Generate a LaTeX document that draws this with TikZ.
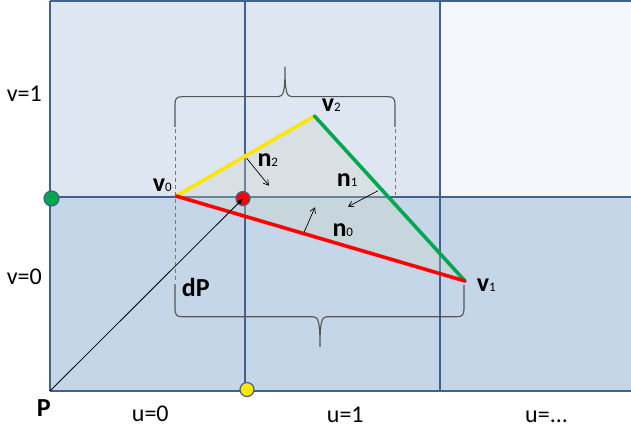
\documentclass[tikz,border=0pt]{standalone}
\usepackage{fontspec}
\setmainfont{Carlito}
\usetikzlibrary{arrows.meta}
\definecolor{cellA}{RGB}{222,230,241}
\definecolor{cellB}{RGB}{243,247,251}
\definecolor{cellC}{RGB}{197,214,233}
\definecolor{gridc}{RGB}{66,98,142}
\definecolor{trif}{RGB}{205,212,196}
\definecolor{edgeG}{RGB}{0,166,80}
\definecolor{edgeR}{RGB}{255,0,0}
\definecolor{edgeY}{RGB}{255,230,0}
\definecolor{bracec}{RGB}{85,85,85}
\definecolor{dashc}{RGB}{120,120,120}
\tikzset{
  gridline/.style={draw=gridc,line width=1.6pt},
  edgeline/.style={line width=3.6pt,line cap=round},
  bracepath/.style={draw=bracec,line width=1.1pt},
  dashpath/.style={draw=dashc,line width=0.9pt,dash pattern=on 4pt off 3pt},
  normarrow/.style={draw=black,line width=0.7pt,-{Straight Barb[length=5pt,width=6pt]}},
  dotmark/.style={circle,draw=gridc,line width=1.2pt,minimum size=15pt,inner sep=0pt},
  lab/.style={anchor=base west,inner sep=0pt,font=\fontsize{24}{24}\selectfont},
  blab/.style={anchor=base west,inner sep=0pt,font=\fontsize{26}{26}\selectfont\bfseries},
}
\newcommand{\subsc}[1]{{\fontsize{13}{13}\selectfont\mdseries #1}}
\begin{document}
\begin{tikzpicture}[x=1pt,y=-1pt]
\useasboundingbox (0,0) rectangle (631,430);
\fill[white] (0,0) rectangle (631,430);
% cells
\fill[cellA] (50,1) rectangle (440,197);
\fill[cellB] (440,1) rectangle (631,197);
\fill[cellC] (50,197) rectangle (631,391);
% grid
\draw[gridline] (50,1) -- (631,1);
\draw[gridline] (50,197) -- (631,197);
\draw[gridline] (50,391) -- (631,391);
\draw[gridline] (50,1) -- (50,391);
\draw[gridline] (245,1) -- (245,391);
\draw[gridline] (440,1) -- (440,391);
% triangle
\coordinate (v0) at (176,196);
\coordinate (v1) at (465,281);
\coordinate (v2) at (314.5,116);
\fill[trif,fill opacity=0.3] (v0) -- (v2) -- (v1) -- cycle;
\draw[edgeline,edgeY] (v0) -- (v2);
\draw[edgeline,edgeG] (v2) -- (v1);
\draw[edgeline,edgeR] (v1) -- (v0);
% braces
\draw[bracepath] (175,127) -- (175,104) .. controls (175,98.5) and (177,96.7) .. (182,96.7) -- (278,96.7) .. controls (283.5,96.7) and (285,92) .. (285,67) .. controls (285,92) and (286.5,96.7) .. (292,96.7) -- (388,96.7) .. controls (393,96.7) and (395,98.5) .. (395,104) -- (395,127);
\draw[dashpath] (175,129) -- (175,283);
\draw[dashpath] (395,129) -- (395,195);
\draw[bracepath] (175,284) -- (175,309) .. controls (175,315) and (177,316.7) .. (182,316.7) -- (313,316.7) .. controls (318.5,316.7) and (320,322) .. (320,347) .. controls (320,322) and (321.5,316.7) .. (327,316.7) -- (457,316.7) .. controls (462,316.7) and (464,315) .. (464,309) -- (464,285);
% dots
\node[dotmark,fill=edgeG] (gdot) at (51.5,198.5) {};
\node[dotmark,fill=edgeY,minimum size=14pt] (ydot) at (247,389.5) {};
\node[dotmark,fill=edgeR,minimum size=14pt] (rdot) at (243,198.5) {};
\coordinate (P) at (50,391);
\draw[draw=black,line width=0.8pt,-{Latex[length=6pt,width=5pt]}] (P) -- (rdot.center);
% normals
\coordinate (n2s) at (246.7,158.3);
\coordinate (n2e) at (269,185.7);
\coordinate (n1s) at (378,190.7);
\coordinate (n1e) at (348,206.7);
\coordinate (n0s) at (304.3,231.7);
\coordinate (n0e) at (315,207.3);
\draw[normarrow] (n2s) -- (n2e);
\draw[normarrow] (n1s) -- (n1e);
\draw[normarrow] (n0s) -- (n0e);
% labels
\node[lab] (lv1) at (6.7,101.7) {v=1};
\node[lab] (lv0) at (6.7,284) {v=0};
\node[lab] (lu0) at (131.7,421.7) {u=0};
\node[lab] (lu1) at (326.7,422.5) {u=1};
\node[lab] (lun) at (525,422) {u=...};
\node[blab] (lP) at (36.7,416.7) {P};
\node[blab] (ldP) at (181.7,296.7) {dP};
\node[blab] (lV0) at (152.7,191.7) {v\subsc{0}};
\node[blab] (lV1) at (476.7,291.7) {v\subsc{1}};
\node[blab] (lV2) at (321.7,111.7) {v\subsc{2}};
\node[blab] (lN2) at (257.3,166.7) {n\subsc{2}};
\node[blab] (lN1) at (336.7,186.7) {n\subsc{1}};
\node[blab] (lN0) at (332.3,236.7) {n\subsc{0}};
\end{tikzpicture}
\end{document}
